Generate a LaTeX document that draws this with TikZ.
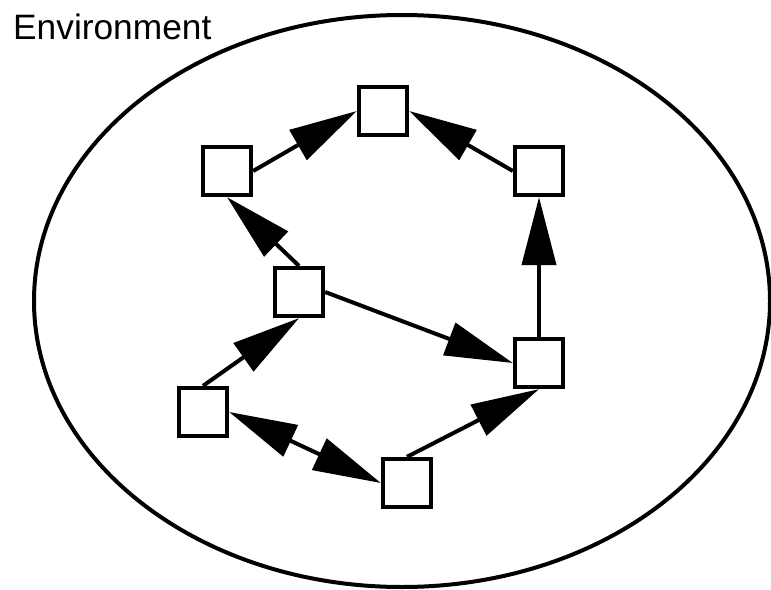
\documentclass[tikz,border=0pt]{standalone}
\usepackage{fontspec}
\setmainfont{Liberation Sans}
\usetikzlibrary{arrows.meta}
\begin{document}
\begin{tikzpicture}[x=1pt,y=-1pt,
  box/.style={draw=black,line width=4.3pt,fill=white,minimum size=48pt,inner sep=0pt},
  link/.style={line width=4pt,-{Triangle[length=68pt,width=34pt]}},
  dlink/.style={line width=4pt,{Triangle[length=68pt,width=34pt]}-{Triangle[length=68pt,width=34pt]}}]
\useasboundingbox (0,0) rectangle (771,589);
\draw[line width=4pt] (402,301) ellipse [x radius=368, y radius=286];
\node[anchor=base west,inner sep=0pt,font=\fontsize{35.3}{42}\selectfont] (env) at (13,39) {Environment};
\node[box] (top) at (383,111) {};
\node[box] (ul) at (227,171) {};
\node[box] (ur) at (539,171) {};
\node[box] (mid) at (299,292) {};
\node[box] (rt) at (539,363) {};
\node[box] (ll) at (203,412) {};
\node[box] (bot) at (407,483) {};
\draw[link] (ul.east) -- (top.west);
\draw[link] (ur.west) -- (top.east);
\draw[link] (mid.north) -- (ul.south);
\draw[link] (rt.north) -- (ur.south);
\draw[link] (mid.east) -- (rt.west);
\draw[link] (ll.north) -- (mid.south);
\draw[dlink] (ll.east) -- (bot.west);
\draw[link] (bot.north) -- (rt.south);
\end{tikzpicture}
\end{document}
